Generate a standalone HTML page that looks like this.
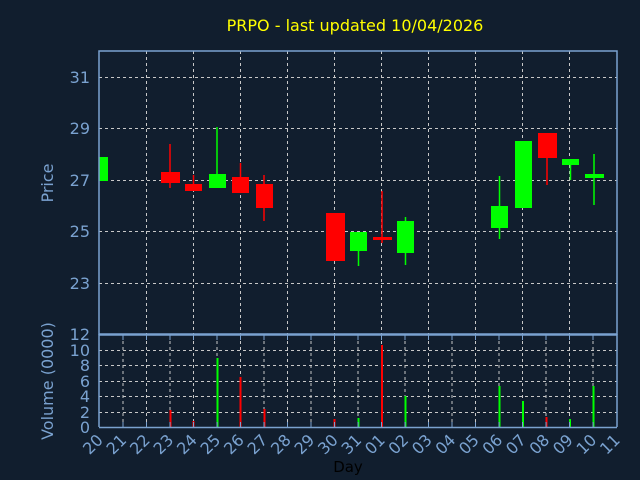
<!DOCTYPE html>
<html><head><meta charset="utf-8"><style>
html,body{margin:0;padding:0;background:#111e2e;}
svg{display:block;font-family:"DejaVu Sans","Liberation Sans",sans-serif;}
</style></head><body>
<svg width="640" height="480" viewBox="0 0 640 480" xmlns="http://www.w3.org/2000/svg">
<rect width="640" height="480" fill="#111e2e"/>
<text x="355" y="31" fill="#ffff00" font-size="16" text-anchor="middle">PRPO - last updated 10/04/2026</text>
<g stroke="#c8c8c8" stroke-width="1" stroke-dasharray="3,3">
<line x1="99" x2="617" y1="77.5" y2="77.5"/><line x1="99" x2="617" y1="128.5" y2="128.5"/>
<line x1="99" x2="617" y1="180.5" y2="180.5"/><line x1="99" x2="617" y1="231.5" y2="231.5"/>
<line x1="99" x2="617" y1="283.5" y2="283.5"/>
<line x1="146.5" x2="146.5" y1="51" y2="334"/><line x1="193.5" x2="193.5" y1="51" y2="334"/>
<line x1="240.5" x2="240.5" y1="51" y2="334"/><line x1="287.5" x2="287.5" y1="51" y2="334"/>
<line x1="334.5" x2="334.5" y1="51" y2="334"/><line x1="381.5" x2="381.5" y1="51" y2="334"/>
<line x1="428.5" x2="428.5" y1="51" y2="334"/><line x1="475.5" x2="475.5" y1="51" y2="334"/>
<line x1="522.5" x2="522.5" y1="51" y2="334"/><line x1="569.5" x2="569.5" y1="51" y2="334"/>
<line x1="99" x2="617" y1="350.5" y2="350.5"/><line x1="99" x2="617" y1="365.5" y2="365.5"/>
<line x1="99" x2="617" y1="381.5" y2="381.5"/><line x1="99" x2="617" y1="396.5" y2="396.5"/>
<line x1="99" x2="617" y1="412.5" y2="412.5"/>
<line x1="123" x2="123" y1="335" y2="427"/><line x1="146.5" x2="146.5" y1="335" y2="427"/><line x1="170" x2="170" y1="335" y2="427"/><line x1="193.5" x2="193.5" y1="335" y2="427"/><line x1="217" x2="217" y1="335" y2="427"/><line x1="240.5" x2="240.5" y1="335" y2="427"/><line x1="264" x2="264" y1="335" y2="427"/><line x1="287.5" x2="287.5" y1="335" y2="427"/><line x1="311" x2="311" y1="335" y2="427"/><line x1="334.5" x2="334.5" y1="335" y2="427"/><line x1="358" x2="358" y1="335" y2="427"/><line x1="381.5" x2="381.5" y1="335" y2="427"/><line x1="405" x2="405" y1="335" y2="427"/><line x1="428.5" x2="428.5" y1="335" y2="427"/><line x1="452" x2="452" y1="335" y2="427"/><line x1="475.5" x2="475.5" y1="335" y2="427"/><line x1="499" x2="499" y1="335" y2="427"/><line x1="522.5" x2="522.5" y1="335" y2="427"/><line x1="546" x2="546" y1="335" y2="427"/><line x1="569.5" x2="569.5" y1="335" y2="427"/><line x1="593" x2="593" y1="335" y2="427"/>
</g>
<g stroke-width="1.5">
<rect x="99" y="157" width="9" height="24" fill="#00ff00"/>
<line x1="170" x2="170" y1="144" y2="188" stroke="#ff0000"/><rect x="161" y="172" width="19" height="11" fill="#ff0000"/>
<line x1="193.5" x2="193.5" y1="175" y2="191" stroke="#ff0000"/><rect x="185" y="184" width="17" height="7" fill="#ff0000"/>
<line x1="217" x2="217" y1="127" y2="174" stroke="#00ff00"/><rect x="209" y="174" width="17" height="14" fill="#00ff00"/>
<line x1="240.5" x2="240.5" y1="163" y2="193" stroke="#ff0000"/><rect x="232" y="177" width="17" height="16" fill="#ff0000"/>
<line x1="264" x2="264" y1="175" y2="221" stroke="#ff0000"/><rect x="256" y="184" width="17" height="24" fill="#ff0000"/>
<rect x="326" y="213" width="19" height="48" fill="#ff0000"/>
<line x1="358.5" x2="358.5" y1="251" y2="266" stroke="#00ff00"/><rect x="350" y="232" width="17" height="19" fill="#00ff00"/>
<line x1="382" x2="382" y1="191" y2="243" stroke="#ff0000"/><rect x="373" y="237" width="19" height="3" fill="#ff0000"/>
<line x1="405.5" x2="405.5" y1="217" y2="265" stroke="#00ff00"/><rect x="397" y="221" width="17" height="32" fill="#00ff00"/>
<line x1="499.5" x2="499.5" y1="176" y2="239" stroke="#00ff00"/><rect x="491" y="206" width="17" height="22" fill="#00ff00"/>
<rect x="515" y="141" width="17" height="67" fill="#00ff00"/>
<line x1="547" x2="547" y1="158" y2="185" stroke="#ff0000"/><rect x="538" y="133" width="19" height="25" fill="#ff0000"/>
<line x1="570.5" x2="570.5" y1="159" y2="180" stroke="#00ff00"/><rect x="562" y="159" width="17" height="6" fill="#00ff00"/>
<line x1="594" x2="594" y1="154" y2="205" stroke="#00ff00"/><rect x="585" y="174" width="19" height="4" fill="#00ff00"/>
</g>
<g stroke-width="2">
<line x1="170.5" x2="170.5" y1="410" y2="427" stroke="#ff0000"/>
<line x1="193.5" x2="193.5" y1="421" y2="427" stroke="#ff0000"/>
<line x1="217.5" x2="217.5" y1="358" y2="427" stroke="#00ff00"/>
<line x1="240.5" x2="240.5" y1="377" y2="427" stroke="#ff0000"/>
<line x1="264.5" x2="264.5" y1="409" y2="427" stroke="#ff0000"/>
<line x1="334.5" x2="334.5" y1="419" y2="427" stroke="#ff0000"/>
<line x1="358.5" x2="358.5" y1="418" y2="427" stroke="#00ff00"/>
<line x1="382" x2="382" y1="345" y2="427" stroke="#ff0000"/>
<line x1="405.5" x2="405.5" y1="396" y2="427" stroke="#00ff00"/>
<line x1="499.5" x2="499.5" y1="386" y2="427" stroke="#00ff00"/>
<line x1="523" x2="523" y1="401" y2="427" stroke="#00ff00"/>
<line x1="546.5" x2="546.5" y1="417" y2="427" stroke="#ff0000"/>
<line x1="570" x2="570" y1="419" y2="427" stroke="#00ff00"/>
<line x1="593.5" x2="593.5" y1="386" y2="427" stroke="#00ff00"/>
</g>
<g stroke="#7aa2d0" stroke-width="1.5" fill="none">
<rect x="99" y="51" width="518" height="283"/>
<line x1="99" x2="99" y1="334" y2="427"/><line x1="617" x2="617" y1="334" y2="427"/>
<line x1="99" x2="617" y1="427.5" y2="427.5"/>
<line x1="99" x2="617" y1="335" y2="335"/>
</g>
<g stroke="#7aa2d0" stroke-width="1">
<path d="M123 427v-5M146.5 427v-5M170 427v-5M193.5 427v-5M217 427v-5M240.5 427v-5M264 427v-5M287.5 427v-5M311 427v-5M334.5 427v-5M358 427v-5M381.5 427v-5M405 427v-5M428.5 427v-5M452 427v-5M475.5 427v-5M499 427v-5M522.5 427v-5M546 427v-5M569.5 427v-5M593 427v-5"/>
<path d="M123 335v5M146.5 335v5M170 335v5M193.5 335v5M217 335v5M240.5 335v5M264 335v5M287.5 335v5M311 335v5M334.5 335v5M358 335v5M381.5 335v5M405 335v5M428.5 335v5M452 335v5M475.5 335v5M499 335v5M522.5 335v5M546 335v5M569.5 335v5M593 335v5"/>
</g>
<g fill="#7aa2d0" font-size="16" text-anchor="end">
<text x="90" y="83">31</text><text x="90" y="134">29</text><text x="90" y="186">27</text>
<text x="90" y="237">25</text><text x="90" y="289">23</text>
<text x="90" y="340">12</text><text x="90" y="356">10</text><text x="90" y="371">8</text>
<text x="90" y="387">6</text><text x="90" y="402">4</text><text x="90" y="418">2</text><text x="90" y="433">0</text>
</g>
<text transform="translate(53,183) rotate(-90)" fill="#7aa2d0" font-size="16" text-anchor="middle">Price</text>
<text transform="translate(53,381) rotate(-90)" fill="#7aa2d0" font-size="16" text-anchor="middle">Volume (0000)</text>
<g fill="#7aa2d0" font-size="16" text-anchor="end">
<text transform="translate(104,441) rotate(-45)">20</text>
<text transform="translate(127.5,441) rotate(-45)">21</text>
<text transform="translate(151,441) rotate(-45)">22</text>
<text transform="translate(174.5,441) rotate(-45)">23</text>
<text transform="translate(198,441) rotate(-45)">24</text>
<text transform="translate(221.5,441) rotate(-45)">25</text>
<text transform="translate(245,441) rotate(-45)">26</text>
<text transform="translate(268.5,441) rotate(-45)">27</text>
<text transform="translate(292,441) rotate(-45)">28</text>
<text transform="translate(315.5,441) rotate(-45)">29</text>
<text transform="translate(339,441) rotate(-45)">30</text>
<text transform="translate(362.5,441) rotate(-45)">31</text>
<text transform="translate(386,441) rotate(-45)">01</text>
<text transform="translate(409.5,441) rotate(-45)">02</text>
<text transform="translate(433,441) rotate(-45)">03</text>
<text transform="translate(456.5,441) rotate(-45)">04</text>
<text transform="translate(480,441) rotate(-45)">05</text>
<text transform="translate(503.5,441) rotate(-45)">06</text>
<text transform="translate(527,441) rotate(-45)">07</text>
<text transform="translate(550.5,441) rotate(-45)">08</text>
<text transform="translate(574,441) rotate(-45)">09</text>
<text transform="translate(597.5,441) rotate(-45)">10</text>
<text transform="translate(621,441) rotate(-45)">11</text>
</g>
<text x="348" y="472" fill="#000000" font-size="15" text-anchor="middle">Day</text>
</svg>
</body></html>
